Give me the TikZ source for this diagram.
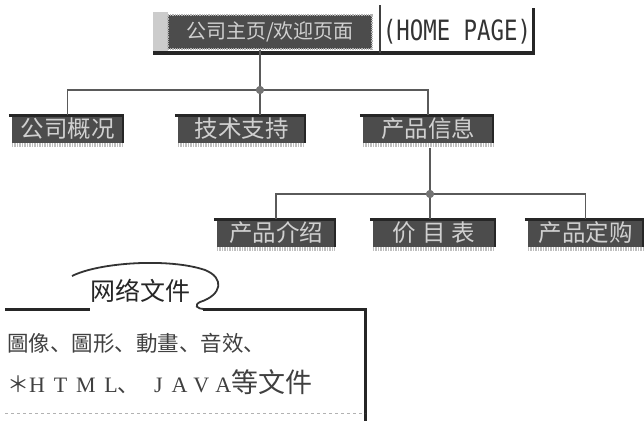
\documentclass[tikz,border=0pt]{standalone}
\usepackage{fontspec}
\setmainfont{Liberation Serif}
\newfontfamily\cjk{Noto Sans CJK SC}
\newfontfamily\homefont[FakeStretch=0.8]{DejaVu Sans Mono}
\newfontfamily\spacedfont[LetterSpace=40]{Liberation Serif}
\usetikzlibrary{calc}
\definecolor{boxgray}{HTML}{4C4C4C}
\definecolor{textgray}{HTML}{D0D0D0}
\definecolor{linegray}{HTML}{5A5A5A}

\begin{document}
\begin{tikzpicture}[x=1pt, y=-1pt,
  topbox/.style={fill=boxgray, draw=black!30, line width=2.5pt, dash pattern=on 1pt off 0.8pt,
    text=textgray, font=\cjk\fontsize{20}{20}\selectfont, inner sep=0pt,
    minimum width=204pt, minimum height=34pt},
  pagebox/.style={fill=boxgray, text=textgray, font=\cjk\fontsize{23.5}{23.5}\selectfont,
    inner sep=0pt, minimum height=27pt,
    append after command={
      ([xshift=-3pt]\tikzlastnode.north west) edge[line width=2.5pt, black!85] ([xshift=1.2pt]\tikzlastnode.north east)
      (\tikzlastnode.north east) edge[line width=2.5pt, black!85] (\tikzlastnode.south east)
      ([yshift=-2.5pt]\tikzlastnode.south west) edge[line width=4pt, black!25, dash pattern=on 1.5pt off 1pt] ([yshift=-2.5pt]\tikzlastnode.south east)
    }},
  link/.style={line width=1.6pt, linegray},
  dot/.style={circle, fill=black!55, inner sep=0pt, minimum size=8pt},
  doclabel/.style={anchor=west, inner sep=0pt, text=black!75}
]
\useasboundingbox (0,0) rectangle (644,421);

% Home page box
\fill[black!20] (153,12) rectangle (168,52);
\node[topbox] (home) at (270,32) {公司主页/欢迎页面};
\node[font=\homefont\fontsize{28}{28}\selectfont, text=black!80, inner sep=0pt] (homeen) at (457,32) {(HOME PAGE)};
\draw[line width=3.5pt, black!85] (153,53) -- (535,53);
\draw[line width=1.5pt, black!75] (380,5) -- (380,53);
\draw[line width=3pt, black!85] (533,8) -- (533,55);

% Second level
\node[pagebox, minimum width=111pt] (about) at (67.5,129) {公司概况};
\node[pagebox, minimum width=127pt] (support) at (241.5,129) {技术支持};
\node[pagebox, minimum width=130pt] (product) at (428,129) {产品信息};

% Third level
\node[pagebox, minimum width=118pt] (intro) at (276,233) {产品介绍};
\node[pagebox, minimum width=122pt] (price) at (434,233) {价\hspace{6pt}目\hspace{6pt}表};
\node[pagebox, minimum width=115pt] (order) at (585.5,233) {产品定购};

% Links
\node[dot] (j1) at (260,90) {};
\node[dot] (j2) at (430,194) {};
\draw[link] (home.south -| j1) -- (j1.center);
\draw[link] (about.north) |- (j1.center) -| (product.north);
\draw[link] (j1.center) -- (j1 |- support.north);
\draw[link] ([yshift=-5pt]product.south -| j2) -- (j2.center);
\draw[link] (intro.north) |- (j2.center) -| (order.north);
\draw[link] (j2.center) -- (j2 |- price.north);
\node[dot] at (j1) {};
\node[dot] at (j2) {};

% Network files panel
\draw[line width=3pt, black!85] (5,309) -- (90,309);
\draw[line width=1.8pt, black!80] (72,276) .. controls (100,262) and (170,258) .. (205,270)
  .. controls (225,278) and (222,295) .. (200,302) .. controls (194,305) and (196,309) .. (205,309);
\draw[line width=3pt, black!85] (203,309) -- (365,309) -- (365,421);
\draw[line width=1pt, black!30, dashed] (5,413) -- (365,413);
\node[font=\cjk\fontsize{25}{25}\selectfont, text=black!85] (tab) at (140,291) {网络文件};
\node[doclabel, font=\cjk\fontsize{21.5}{21.5}\selectfont] (media) at (7,343) {圖像、圖形、動畫、音效、};
\node[doclabel, font=\cjk\fontsize{22}{22}\selectfont] (files) at (7,382)
  {＊{\spacedfont\fontsize{22}{22}\selectfont HTML}、{\spacedfont\fontsize{22}{22}\selectfont\ JAVA}{\fontsize{27}{27}\selectfont 等文件}};

\end{tikzpicture}
\end{document}
